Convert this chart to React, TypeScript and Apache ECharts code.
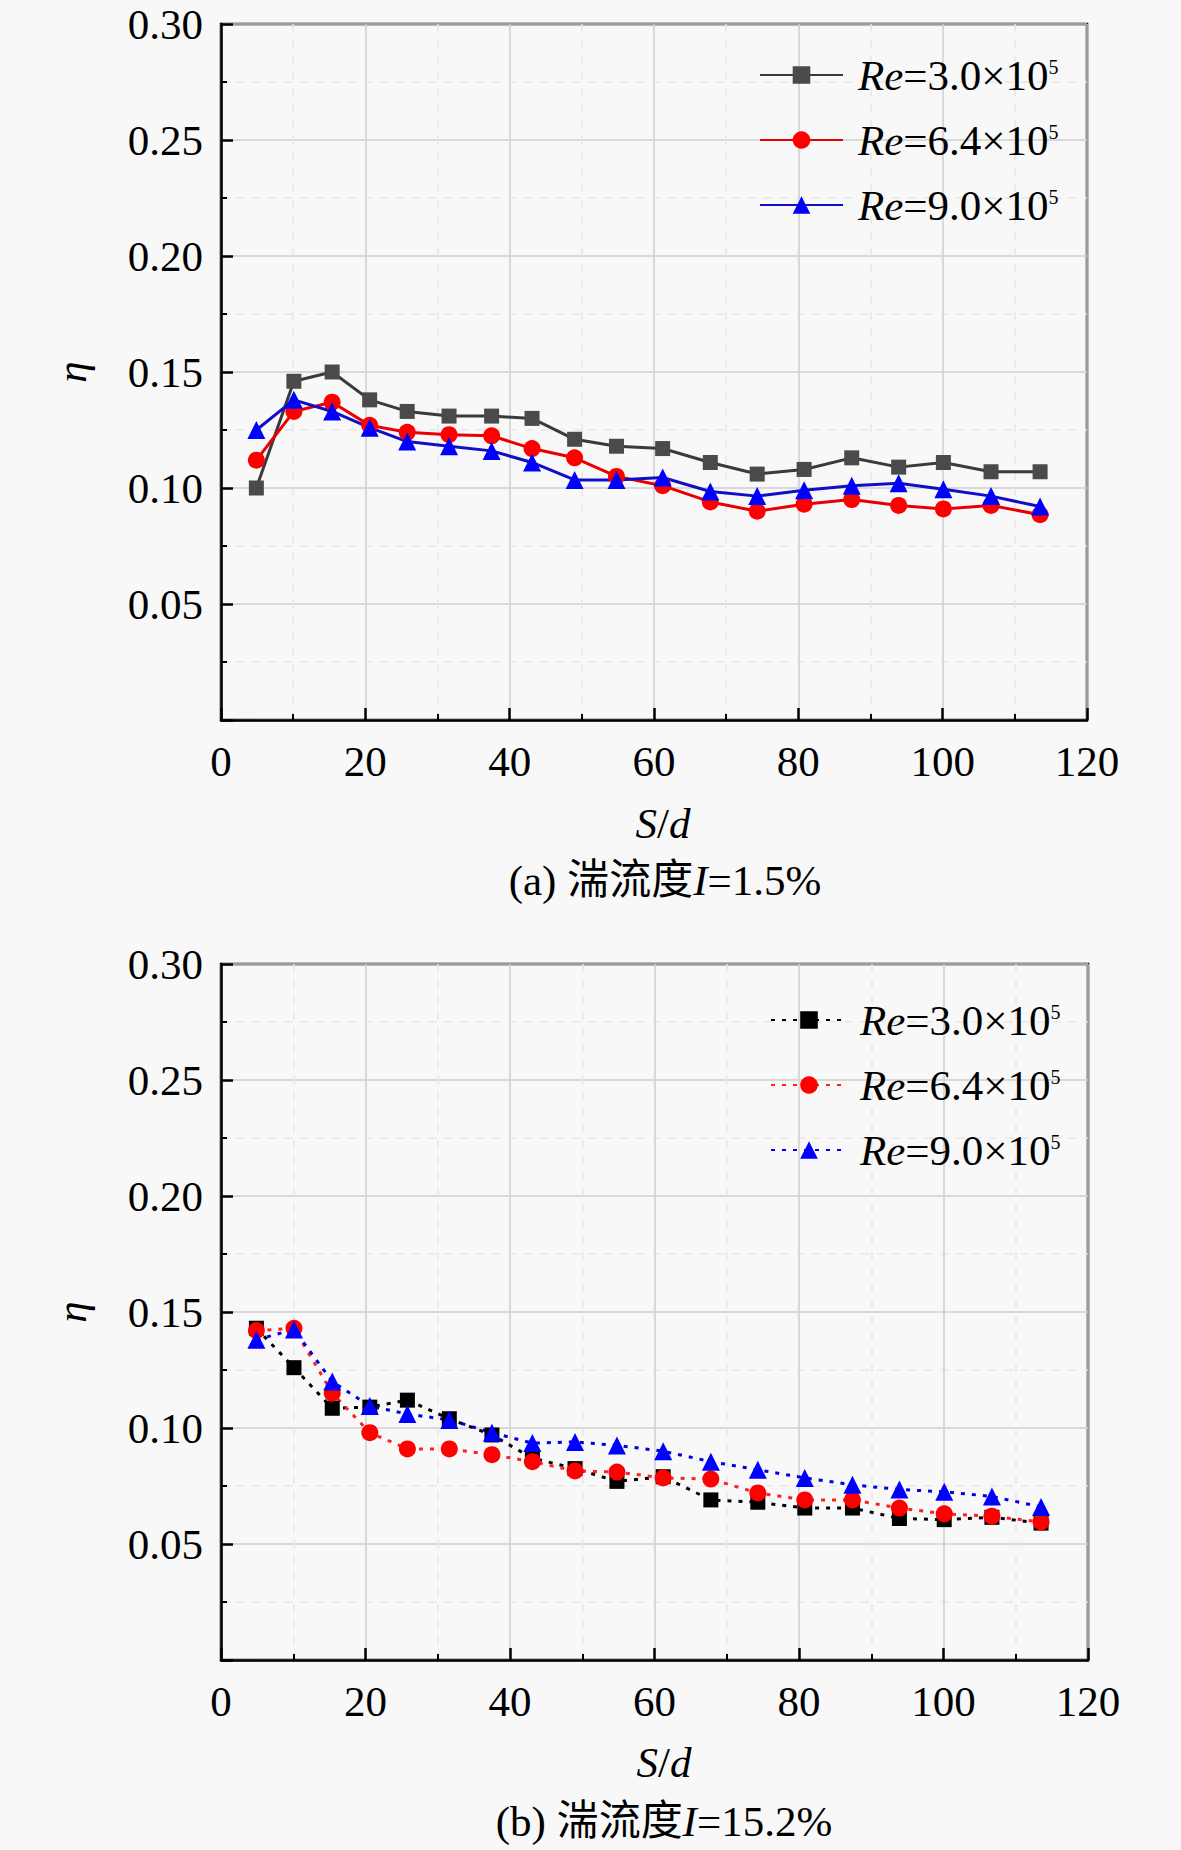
import React, { useEffect, useRef } from "react";
import * as echarts from "echarts";

const sd = [4.9, 10.1, 15.4, 20.6, 25.8, 31.6, 37.5, 43.1, 49.0, 54.8, 61.2, 67.8, 74.3, 80.8, 87.4, 93.9, 100.1, 106.7, 113.5];

const reLabels = ["3.0", "6.4", "9.0"];

// (a) I = 1.5%
const a30 = [0.100, 0.146, 0.150, 0.138, 0.133, 0.131, 0.131, 0.130, 0.121, 0.118, 0.117, 0.111, 0.106, 0.108, 0.113, 0.109, 0.111, 0.107, 0.107];
const a64 = [0.112, 0.133, 0.137, 0.127, 0.124, 0.123, 0.1225, 0.117, 0.113, 0.105, 0.101, 0.094, 0.090, 0.093, 0.095, 0.0925, 0.091, 0.0925, 0.0885];
const a90 = [0.125, 0.138, 0.133, 0.126, 0.120, 0.118, 0.116, 0.111, 0.1035, 0.1035, 0.1045, 0.0985, 0.0965, 0.099, 0.101, 0.102, 0.0995, 0.0965, 0.092];

// (b) I = 15.2%
const b30 = [0.143, 0.126, 0.1085, 0.109, 0.112, 0.104, 0.097, 0.087, 0.0825, 0.077, 0.079, 0.069, 0.068, 0.0655, 0.0655, 0.061, 0.0605, 0.0615, 0.059];
const b64 = [0.142, 0.143, 0.115, 0.098, 0.091, 0.091, 0.0885, 0.0855, 0.0815, 0.081, 0.0785, 0.078, 0.072, 0.069, 0.069, 0.0655, 0.063, 0.062, 0.0595];
const b90 = [0.138, 0.1425, 0.120, 0.1095, 0.106, 0.1035, 0.098, 0.0935, 0.094, 0.0925, 0.090, 0.0855, 0.082, 0.0785, 0.0755, 0.0735, 0.0725, 0.0705, 0.066];

const xTicks = { min: 0, max: 120, interval: 20 };
const yTicks = { min: 0, max: 0.3, interval: 0.05 };

const FONT = "Liberation Serif";
const CJK = "Liberation Serif, Noto Sans CJK SC";
const FS = 43;

const pair = (ys: number[]) => ys.map((y, i) => [sd[i], y]);

const richText = {
  i: { fontStyle: "italic", fontFamily: FONT, fontSize: FS, color: "#000" },
  s: { fontFamily: FONT, fontSize: 20, color: "#000", padding: [0, 0, 16, 0] },
  n: { fontFamily: FONT, fontSize: FS, color: "#000" },
  c: { fontFamily: CJK, fontSize: FS - 1, color: "#000" },
};

function makeX(gridIndex: number) {
  return {
    type: "value",
    gridIndex,
    ...xTicks,
    axisLine: { show: true, onZero: false, lineStyle: { color: "#000", width: 2.5 } },
    axisTick: { show: true, inside: true, length: 12, lineStyle: { color: "#000", width: 2.5 } },
    minorTick: { show: true, splitNumber: 2, length: 6, lineStyle: { color: "#000", width: 2 } },
    axisLabel: { fontFamily: FONT, fontSize: FS, color: "#000", margin: 20 },
    splitLine: { show: true, lineStyle: { color: "#cfcfcf", width: 1.5 } },
    minorSplitLine: { show: true, lineStyle: { color: "#e6e6e6", width: 1.5, type: [8, 8] } },
  };
}

function makeY(gridIndex: number) {
  return {
    type: "value",
    gridIndex,
    ...yTicks,
    name: "η",
    nameLocation: "middle",
    nameGap: 128,
    nameRotate: 90,
    nameTextStyle: { fontFamily: FONT, fontStyle: "italic", fontSize: FS, color: "#000" },
    axisLine: { show: true, onZero: false, lineStyle: { color: "#000", width: 2.5 } },
    axisTick: { show: true, inside: true, length: 12, lineStyle: { color: "#000", width: 2.5 } },
    minorTick: { show: true, splitNumber: 2, length: 6, lineStyle: { color: "#000", width: 2 } },
    axisLabel: {
      fontFamily: FONT,
      fontSize: FS,
      color: "#000",
      margin: 18,
      formatter: (v: number) => (Math.abs(v) < 1e-9 ? "" : v.toFixed(2)),
    },
    splitLine: { show: true, lineStyle: { color: "#cfcfcf", width: 1.5 } },
    minorSplitLine: { show: true, lineStyle: { color: "#e6e6e6", width: 1.5, type: [8, 8] } },
  };
}

type SerDef = { name: string; data: number[]; line: string; fill: string; symbol: string; size: number; dotted: boolean };

function makeSeries(idx: number, d: SerDef) {
  return {
    type: "line",
    name: d.name,
    xAxisIndex: idx,
    yAxisIndex: idx,
    data: pair(d.data),
    symbol: d.symbol,
    symbolSize: d.size,
    showAllSymbol: true,
    lineStyle: { color: d.line, width: 3, type: d.dotted ? [4, 7] : "solid" },
    itemStyle: { color: d.fill, borderWidth: 0 },
    emphasis: { disabled: true },
  };
}

const aSeries: SerDef[] = [
  { name: "a0", data: a30, line: "#3a3a3a", fill: "#4a4a4a", symbol: "rect", size: 15, dotted: false },
  { name: "a1", data: a64, line: "#e80000", fill: "#ff0000", symbol: "circle", size: 17, dotted: false },
  { name: "a2", data: a90, line: "#0f0fc8", fill: "#0000ff", symbol: "triangle", size: 18, dotted: false },
];
const bSeries: SerDef[] = [
  { name: "b0", data: b30, line: "#000000", fill: "#000000", symbol: "rect", size: 15, dotted: true },
  { name: "b1", data: b64, line: "#ff2020", fill: "#ff0000", symbol: "circle", size: 17, dotted: true },
  { name: "b2", data: b90, line: "#0000e0", fill: "#0000ff", symbol: "triangle", size: 18, dotted: true },
];

function legendFormatter(name: string) {
  const k = Number(name.slice(1));
  return `{i|Re}{n|=${reLabels[k]}×10}{s|5}`;
}

function makeLegend(data: string[], left: number, top: number, itemWidth: number, pad: number) {
  return {
    data,
    orient: "vertical",
    left,
    top,
    itemWidth,
    itemHeight: 22,
    itemGap: 21,
    selectedMode: false,
    formatter: legendFormatter,
    textStyle: { fontFamily: FONT, fontSize: FS, color: "#000", lineHeight: 44, padding: [0, 0, 0, pad], rich: richText },
  };
}

export default function App() {
  const ref = useRef<HTMLDivElement>(null);
  useEffect(() => {
    if (!ref.current) return;
    const prevMargin = document.body.style.margin;
    document.body.style.margin = "0";
    const chart = echarts.init(ref.current, undefined, { renderer: "svg" });
    chart.setOption({
      animation: false,
      backgroundColor: "#f8f8f8",
      grid: [
        { left: 221, top: 24, width: 866, height: 696, show: true, borderColor: "#000", borderWidth: 2.5, backgroundColor: "transparent" },
        { left: 221, top: 964, width: 867, height: 696, show: true, borderColor: "#000", borderWidth: 2.5, backgroundColor: "transparent" },
      ],
      xAxis: [makeX(0), makeX(1)],
      yAxis: [makeY(0), makeY(1)],
      legend: [
        makeLegend(aSeries.map((s) => s.name), 754, 48, 83, 10),
        makeLegend(bSeries.map((s) => s.name), 765, 993, 76, 8),
      ],
      series: [...aSeries.map((s) => makeSeries(0, s)), ...bSeries.map((s) => makeSeries(1, s))],
      graphic: [
        {
          type: "text",
          x: 663,
          y: 823,
          style: { text: "{i|S}{n|/}{i|d}", rich: richText, align: "center", verticalAlign: "middle" },
        },
        {
          type: "text",
          x: 665,
          y: 880,
          style: { text: "{n|(a) }{c|湍流度}{i|I}{n|=1.5%}", rich: richText, align: "center", verticalAlign: "middle" },
        },
        {
          type: "text",
          x: 664,
          y: 1762,
          style: { text: "{i|S}{n|/}{i|d}", rich: richText, align: "center", verticalAlign: "middle" },
        },
        {
          type: "text",
          x: 664,
          y: 1821,
          style: { text: "{n|(b) }{c|湍流度}{i|I}{n|=15.2%}", rich: richText, align: "center", verticalAlign: "middle" },
        },
      ],
    });
    return () => {
      chart.dispose();
      document.body.style.margin = prevMargin;
    };
  }, []);
  return <div ref={ref} style={{ width: 1181, height: 1850 }} />;
}
